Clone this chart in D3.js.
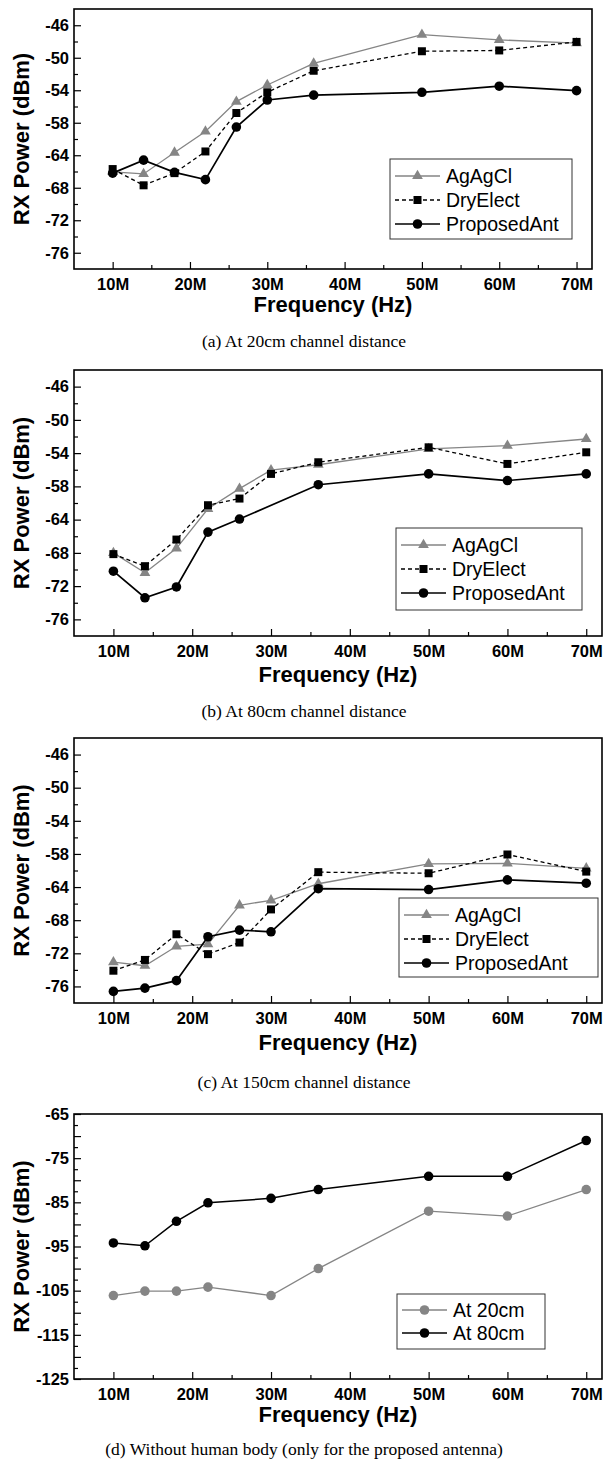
<!DOCTYPE html>
<html>
<head>
<meta charset="utf-8">
<script src="https://cdn.jsdelivr.net/npm/d3@7"></script>
<style>
  body { margin: 0; background: #fff; }
  svg { display: block; }
</style>
</head>
<body>
<svg id="svg"></svg>
<script>
// ---- data ----
var freqs  = [10, 14, 18, 22, 26, 30, 36, 50, 60, 70];
var freqsB = [10, 14, 18, 22, 26, 36, 50, 60, 70];   // proposed ant, panel b (no 30M point)
var freqsD = [10, 14, 18, 22, 30, 36, 50, 60, 70];

var agA   = [-66.05, -66.3, -63.5, -59.6, -55.4, -53.35, -50.7, -47.15, -47.8, -48.2];
var dryA  = [-65.7, -67.7, -66.2, -63.3, -56.8, -54.25, -51.6, -49.2, -49.1, -48.05];
var propA = [-66.2, -64.6, -66.1, -67.0, -58.8, -55.2, -54.6, -54.25, -53.5, -54.05];

var agB   = [-68.0, -70.4, -67.45, -62.05, -58.4, -56.05, -55.4, -53.5, -53.1, -52.3];
var dryB  = [-68.15, -69.6, -66.4, -61.4, -60.2, -56.5, -55.1, -53.3, -55.3, -53.9];
var propB = [-70.2, -73.4, -72.1, -65.5, -63.9, -57.8, -56.5, -57.3, -56.5];

var agC   = [-73.06, -73.5, -71.15, -70.9, -66.2, -65.6, -63.4, -59.8, -59.7, -60.6];
var dryC  = [-74.1, -72.8, -69.7, -72.1, -70.7, -66.7, -61.3, -61.5, -58.1, -61.2];
var propC = [-76.6, -76.2, -75.3, -70.0, -69.2, -69.4, -64.2, -64.3, -62.7, -63.3];

var d20cm = [-106.1, -105.1, -105.1, -104.2, -106.1, -100.0, -87.0, -88.1, -82.1];
var d80cm = [-94.2, -94.85, -89.3, -85.1, -84.1, -82.1, -79.1, -79.1, -71.0];

var xTicks = [10, 20, 30, 40, 50, 60, 70];
var xMinor = [15, 25, 35, 45, 55, 65];
var yTicksABC = [-46, -50, -54, -58, -64, -68, -72, -76];
var yMinorABC = [-48, -52, -56, -61, -66, -70, -74];
var yTicksD = [-65, -75, -85, -95, -105, -115, -125];
var yMidD = [-70, -80, -90, -100, -110, -120];
var yMinorD = [-67.5, -72.5, -77.5, -82.5, -87.5, -92.5, -97.5, -102.5, -107.5, -112.5, -117.5, -122.5];

var captions = [
  "(a) At 20cm channel distance",
  "(b) At 80cm channel distance",
  "(c) At 150cm channel distance",
  "(d) Without human body (only for the proposed antenna)"
];

var GRAY = "#858585";
var sans = "'Liberation Sans', Arial, Helvetica, sans-serif";
var serif = "'Liberation Serif', 'Times New Roman', serif";

var styles = {
  ag:   {name: "AgAgCl",      color: GRAY,   dash: null,  width: 1.3, sym: d3.symbolTriangle, size: 50},
  dry:  {name: "DryElect",    color: "#000", dash: "4,3", width: 1.3, sym: d3.symbolSquare,   size: 64},
  prop: {name: "ProposedAnt", color: "#000", dash: null,  width: 1.7, sym: d3.symbolCircle,   size: 72},
  d20:  {name: "At 20cm",     color: GRAY,   dash: null,  width: 1.3, sym: d3.symbolCircle,   size: 72},
  d80:  {name: "At 80cm",     color: "#000", dash: null,  width: 1.5, sym: d3.symbolCircle,   size: 72}
};

var panels = [
  {top: 9,    bottom: 269,  right: 592, tickOff: 9, freqY: 312, capY: 347, leg: {x: 390, y: 159, w: 182, h: 80},
   series: [[styles.ag, freqs, agA], [styles.dry, freqs, dryA], [styles.prop, freqs, propA]]},
  {top: 370,  bottom: 636,  right: 602, tickOff: 9, freqY: 682, capY: 717, leg: {x: 396, y: 528, w: 186, h: 82},
   series: [[styles.ag, freqs, agB], [styles.dry, freqs, dryB], [styles.prop, freqsB, propB]]},
  {top: 738,  bottom: 1003, right: 602, tickOff: 9, freqY: 1050, capY: 1088, leg: {x: 399, y: 898, w: 199, h: 79},
   series: [[styles.ag, freqs, agC], [styles.dry, freqs, dryC], [styles.prop, freqs, propC]]},
  {top: 1114, bottom: 1379, right: 602, tickOff: 9, freqY: 1422, capY: 1455, leg: {x: 397, y: 1294, w: 148, h: 55},
   series: [[styles.d20, freqsD, d20cm], [styles.d80, freqsD, d80cm]], isD: true}
];

var svg = d3.select("#svg").attr("width", 606).attr("height", 1463);
svg.append("rect").attr("width", 606).attr("height", 1463).attr("fill", "#fff");

panels.forEach(function(p, pi){
  var left = 74;
  var x = d3.scaleLinear().domain([5, 72]).range([left, p.right]);
  var y;
  if (p.isD) {
    y = d3.scaleLinear().domain([-125, -65]).range([p.bottom, p.top]);
  } else {
    // the original axis jumps from -58 to -64 over one tick gap
    var g = (p.bottom - p.top) / 8;
    y = d3.scaleLinear().domain([-44, -58, -64, -78])
          .range([p.top, p.top + 3.5 * g, p.top + 4.5 * g, p.bottom]);
  }

  var G = svg.append("g").attr("class", "panel" + pi);

  // axes: ticks point inward, labels use a plain hyphen like the original
  var yAx = G.append("g").attr("transform", `translate(${left},0)`)
    .call(d3.axisLeft(y).tickValues(p.isD ? yTicksD : yTicksABC).tickSize(-7).tickPadding(5).tickFormat(d => String(d)));
  yAx.selectAll("text").style("font-family", sans).style("font-weight", 700).style("font-size", "16.5px").attr("fill", "#000");
  G.append("g").attr("transform", `translate(${left},0)`)
    .call(d3.axisLeft(y).tickValues(p.isD ? yMinorD : yMinorABC).tickSize(-4).tickFormat(""));
  if (p.isD) {
    G.append("g").attr("transform", `translate(${left},0)`)
      .call(d3.axisLeft(y).tickValues(yMidD).tickSize(-7).tickFormat(""));
  }

  var xAx = G.append("g").attr("transform", `translate(0,${p.bottom})`)
    .call(d3.axisBottom(x).tickValues(xTicks).tickSize(-7).tickPadding(p.tickOff).tickFormat(d => d + "M"));
  xAx.selectAll("text").style("font-family", sans).style("font-weight", 700).style("font-size", "16.5px").attr("fill", "#000");
  G.append("g").attr("transform", `translate(0,${p.bottom})`)
    .call(d3.axisBottom(x).tickValues(xMinor).tickSize(-4).tickFormat(""));

  G.selectAll(".domain").remove();
  G.selectAll(".tick line").attr("stroke", "#000").attr("stroke-width", 1.2);

  // frame
  G.append("rect")
    .attr("x", left).attr("y", p.top)
    .attr("width", p.right - left).attr("height", p.bottom - p.top)
    .attr("fill", "none").attr("stroke", "#000").attr("stroke-width", 1.6);

  // series
  var line = d3.line().x(d => x(d[0])).y(d => y(d[1]));
  p.series.forEach(function(s){
    var st = s[0];
    var pts = s[1].map((f, i) => [f, s[2][i]]);
    G.append("path")
      .datum(pts)
      .attr("d", line)
      .attr("fill", "none")
      .attr("stroke", st.color)
      .attr("stroke-width", st.width)
      .attr("stroke-dasharray", st.dash);
    G.selectAll(null)
      .data(pts)
      .enter().append("path")
      .attr("d", d3.symbol().type(st.sym).size(st.size))
      .attr("transform", d => `translate(${x(d[0])},${y(d[1])})`)
      .attr("fill", st.color);
  });

  // legend
  var L = p.leg;
  var lg = G.append("g").attr("transform", `translate(${L.x},${L.y})`);
  lg.append("rect").attr("width", L.w).attr("height", L.h)
    .attr("fill", "#fff").attr("stroke", "#333").attr("stroke-width", 1);
  var rowY = p.isD ? [16, 39] : [17, 41, 65];
  p.series.forEach(function(s, i){
    var st = s[0];
    var row = lg.append("g").attr("transform", `translate(0,${rowY[i]})`);
    row.append("line").attr("x1", 5).attr("x2", 50).attr("y1", 0).attr("y2", 0)
      .attr("stroke", st.color).attr("stroke-width", st.width).attr("stroke-dasharray", st.dash);
    row.append("path").attr("d", d3.symbol().type(st.sym).size(st.size))
      .attr("transform", "translate(27.5,0)").attr("fill", st.color);
    row.append("text").attr("x", 56).attr("y", 0).attr("dy", "0.35em")
      .style("font-family", sans).style("font-size", "19.5px").attr("fill", "#000")
      .text(st.name);
  });

  // axis titles
  G.append("text")
    .attr("x", (left + p.right) / 2).attr("y", p.freqY)
    .attr("text-anchor", "middle")
    .style("font-family", sans).style("font-weight", 700).style("font-size", "22px")
    .text("Frequency (Hz)");
  G.append("text")
    .attr("transform", `translate(29,${(p.top + p.bottom) / 2}) rotate(-90)`)
    .attr("text-anchor", "middle")
    .style("font-family", sans).style("font-weight", 700).style("font-size", "22px")
    .text("RX Power (dBm)");

  // caption
  G.append("text")
    .attr("x", 304).attr("y", p.capY)
    .attr("text-anchor", "middle")
    .style("font-family", serif).style("font-size", "17.5px")
    .text(captions[pi]);
});
</script>
</body>
</html>
